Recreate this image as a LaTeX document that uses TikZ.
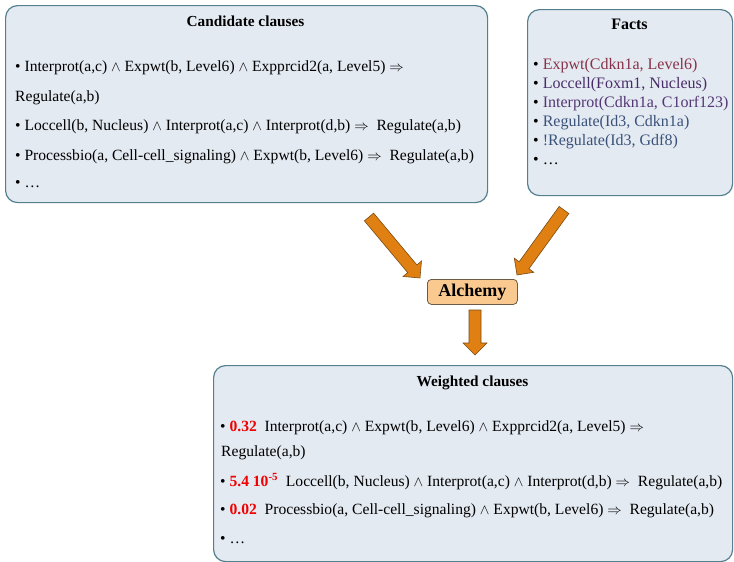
\documentclass[tikz,border=0pt]{standalone}
\usepackage{fontspec}
\setmainfont{Liberation Serif}
\usetikzlibrary{calc}
\definecolor{boxfill}{RGB}{228,234,242}
\definecolor{boxline}{RGB}{84,128,142}
\definecolor{arrfill}{RGB}{224,128,18}
\definecolor{arrline}{RGB}{120,75,20}
\definecolor{alchfill}{RGB}{250,201,144}
\definecolor{alchline}{RGB}{110,90,70}
\definecolor{fA}{RGB}{135,50,72}
\definecolor{fB}{RGB}{72,44,104}
\definecolor{fC}{RGB}{84,54,116}
\definecolor{fD}{RGB}{58,82,122}
\definecolor{wred}{RGB}{240,0,0}
\newcommand{\AND}{\ensuremath{\wedge}}
\newcommand{\IMP}{\ensuremath{\Rightarrow}}
\newcommand{\blockarr}[2]{%
  \path[blockarrow] let \p1=(#1), \p2=(#2),
    \n1={atan2(\y2-\y1,\x2-\x1)}, \n2={veclen(\x2-\x1,\y2-\y1)} in
    [shift={(\p1)}, rotate=\n1]
    (0pt,-6pt) -- ({\n2-12pt},-6pt) -- ({\n2-12pt},-12pt) -- ({\n2+0pt},0pt)
    -- ({\n2-12pt},12pt) -- ({\n2-12pt},6pt) -- (0pt,6pt) -- cycle;}
\tikzset{
  panel/.style={draw=boxline, fill=boxfill, line width=1.2pt, rounded corners=12pt, inner sep=0pt},
  ttl/.style={font=\bfseries\fontsize{15.3}{18}\selectfont, anchor=base, inner sep=0pt},
  txt/.style={font=\fontsize{15.6}{18}\selectfont, anchor=base west, inner sep=0pt},
  ftxt/.style={font=\fontsize{16}{19}\selectfont, anchor=base west, inner sep=0pt},
  blockarrow/.style={fill=arrfill, draw=arrline, line width=0.6pt, line join=miter},
  alchbox/.style={draw=alchline, fill=alchfill, line width=0.8pt, rounded corners=4pt,
    font=\bfseries\fontsize{18}{20}\selectfont, inner sep=0pt},
}
\begin{document}
\begin{tikzpicture}[x=1pt,y=-1pt]
\useasboundingbox[fill=white] (0,0) rectangle (734,562);
% panels
\node[panel, minimum width=482pt, minimum height=197pt, anchor=north west] (cand) at (5,5) {};
\node[panel, minimum width=205pt, minimum height=186pt, anchor=north west] (facts) at (527,9) {};
\node[panel, minimum width=519pt, minimum height=196pt, anchor=north west] (weighted) at (213,365) {};
\node[alchbox, minimum width=90pt, minimum height=25pt, anchor=north west] (alch) at (427,279) {Alchemy};
% candidate clauses
\node[ttl] (candT) at (245.5,27) {Candidate clauses};
\node[txt] (c1) at (15,71) {• Interprot(a,c) \AND{} Expwt(b, Level6) \AND{} Expprcid2(a, Level5) \IMP};
\node[txt] (c2) at (15,101) {Regulate(a,b)};
\node[txt] (c3) at (15,130) {• Loccell(b, Nucleus) \AND{} Interprot(a,c) \AND{} Interprot(d,b) \IMP\ \ Regulate(a,b)};
\node[txt] (c4) at (15,160) {• Processbio(a, Cell-cell\_signaling) \AND{} Expwt(b, Level6) \IMP\ \ Regulate(a,b)};
\node[txt] (c5) at (15,187) {• …};
% facts
\node[ttl, font=\bfseries\fontsize{16}{19}\selectfont] (factsT) at (629.5,30) {Facts};
\node[ftxt] (f1) at (533,69) {• \textcolor{fA}{Expwt(Cdkn1a, Level6)}};
\node[ftxt] (f2) at (533,88) {• \textcolor{fB}{Loccell(Foxm1, Nucleus)}};
\node[ftxt] (f3) at (533,107) {• \textcolor{fC}{Interprot(Cdkn1a, C1orf123)}};
\node[ftxt] (f4) at (533,126) {• \textcolor{fD}{Regulate(Id3, Cdkn1a)}};
\node[ftxt] (f5) at (533,145) {• \textcolor{fD}{!Regulate(Id3, Gdf8)}};
\node[ftxt] (f6) at (533,164) {• …};
% weighted clauses
\node[ttl] (wT) at (472.5,386) {Weighted clauses};
\node[txt] (w1) at (220,431) {• \textcolor{wred}{\bfseries 0.32}\ \ Interprot(a,c) \AND{} Expwt(b, Level6) \AND{} Expprcid2(a, Level5) \IMP};
\node[txt] (w2) at (221,456) {Regulate(a,b)};
\node[txt] (w3) at (220,486) {• \textcolor{wred}{\bfseries 5.4 10\textsuperscript{-5}}\ \ Loccell(b, Nucleus) \AND{} Interprot(a,c) \AND{} Interprot(d,b) \IMP\ \ Regulate(a,b)};
\node[txt] (w4) at (220,514) {• \textcolor{wred}{\bfseries 0.02}\ \ Processbio(a, Cell-cell\_signaling) \AND{} Expwt(b, Level6) \IMP\ \ Regulate(a,b)};
\node[txt] (w5) at (220,543) {• …};
% arrows
\coordinate (l0) at (369,217);
\coordinate (l1) at (420,278);
\coordinate (r0) at (564,210);
\coordinate (r1) at (517,275);
\coordinate (d0) at (475,310);
\coordinate (d1) at (475,355);
\blockarr{l0}{l1}
\blockarr{r0}{r1}
\blockarr{d0}{d1}
\end{tikzpicture}
\end{document}
